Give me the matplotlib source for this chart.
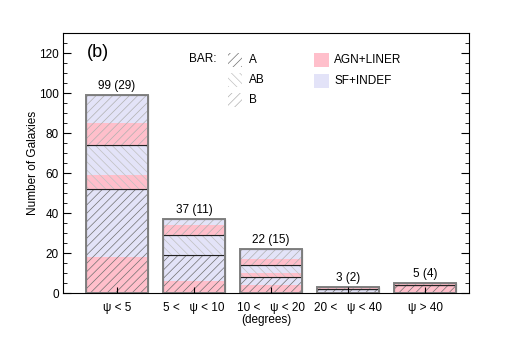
import numpy as np
import matplotlib.pyplot as plt
from matplotlib.patches import Rectangle
from matplotlib.ticker import MultipleLocator

plt.rcParams['font.family'] = ['Liberation Sans', 'DejaVu Sans']
plt.rcParams['hatch.linewidth'] = 0.5

bins = ['ψ < 5', '5 <   ψ < 10', '10 <   ψ < 20', '20 <   ψ < 40', 'ψ > 40']
totals = [99, 37, 22, 3, 5]
paren = [29, 11, 15, 2, 4]

# counts per bar type, split into AGN+LINER / SF+INDEF
agn_A = [18, 6, 4, 0, 4]
sf_A = [34, 13, 4, 2, 0]
agn_AB = [7, 0, 2, 0, 0]
sf_AB = [15, 10, 4, 0, 0]
agn_B = [11, 5, 3, 1, 1]
sf_B = [14, 3, 5, 0, 0]

pink = '#ffbfcb'
lav = '#e3e3f8'
hatches = {'A': ('////', '#707070'), 'AB': ('\\\\\\\\', '#c0c0c0'), 'B': ('////', '#b0b0b0')}

fig = plt.figure(figsize=(5.07, 3.38), dpi=100)
ax = fig.add_axes([0.1243, 0.1331, 0.8008, 0.7692])

x = np.arange(len(bins))
w = 0.805
bottom = np.zeros(len(bins))
for name, agn, sf in [('A', agn_A, sf_A), ('AB', agn_AB, sf_AB), ('B', agn_B, sf_B)]:
    h, hc = hatches[name]
    start = bottom.copy()
    for vals, col in [(agn, pink), (sf, lav)]:
        ax.bar(x, vals, w, bottom=bottom, color=col, edgecolor=hc, hatch=h, linewidth=0)
        bottom = bottom + np.array(vals)
    # section outline
    ax.bar(x, bottom - start, w, bottom=start, fill=False, edgecolor='#222222', linewidth=0.8)

ax.bar(x, totals, w, fill=False, edgecolor='#808080', linewidth=1.4)

for xi, t, p in zip(x, totals, paren):
    ax.annotate(f'{t} ({p})', (xi, t), xytext=(0, 2), textcoords='offset points',
                ha='center', va='bottom', fontsize=8.5)

ax.set_xlim(-0.70, 4.565)
ax.set_ylim(0, 130)
ax.set_xticks(x)
ax.set_xticklabels(bins, fontsize=8.5)
ax.set_xlabel('(degrees)', fontsize=8.5, labelpad=0)
ax.set_ylabel('Number of Galaxies', fontsize=8.5, labelpad=0)
ax.yaxis.set_major_locator(MultipleLocator(20))
ax.yaxis.set_minor_locator(MultipleLocator(5))
ax.tick_params(axis='y', which='major', direction='in', length=5.5, right=True, labelsize=8.5, pad=3)
ax.tick_params(axis='y', which='minor', direction='in', length=3, right=True)
ax.tick_params(axis='x', direction='in', length=4, top=False, pad=6.5)
for s in ax.spines.values():
    s.set_linewidth(0.8)

def px(xp, yp):
    return (xp - 63) / 406, (293 - yp) / 260

ax.text(*px(87, 52), '(b)', fontsize=13, va='center', ha='left', transform=ax.transAxes)
ax.text(*px(189, 59), 'BAR:', fontsize=8.5, va='center', ha='left', transform=ax.transAxes)
for i, name in enumerate(['A', 'AB', 'B']):
    h, hc = hatches[name]
    yc = 60 + 20 * i
    x0, y0 = px(228, yc + 7)
    ax.add_patch(Rectangle((x0, y0), 14 / 406, 14 / 260, transform=ax.transAxes,
                           facecolor='none', edgecolor=hc, hatch=h, linewidth=0))
    ax.text(*px(249, yc), name, fontsize=8.5, va='center', ha='left', transform=ax.transAxes)

for i, (lab, col) in enumerate([('AGN+LINER', pink), ('SF+INDEF', lav)]):
    yc = 60 + 21 * i
    x0, y0 = px(314, yc + 7)
    ax.add_patch(Rectangle((x0, y0), 15 / 406, 14 / 260, transform=ax.transAxes,
                           facecolor=col, edgecolor='none'))
    ax.text(*px(334, yc), lab, fontsize=8.5, va='center', ha='left', transform=ax.transAxes)

fig.savefig('out.png', dpi=100)
